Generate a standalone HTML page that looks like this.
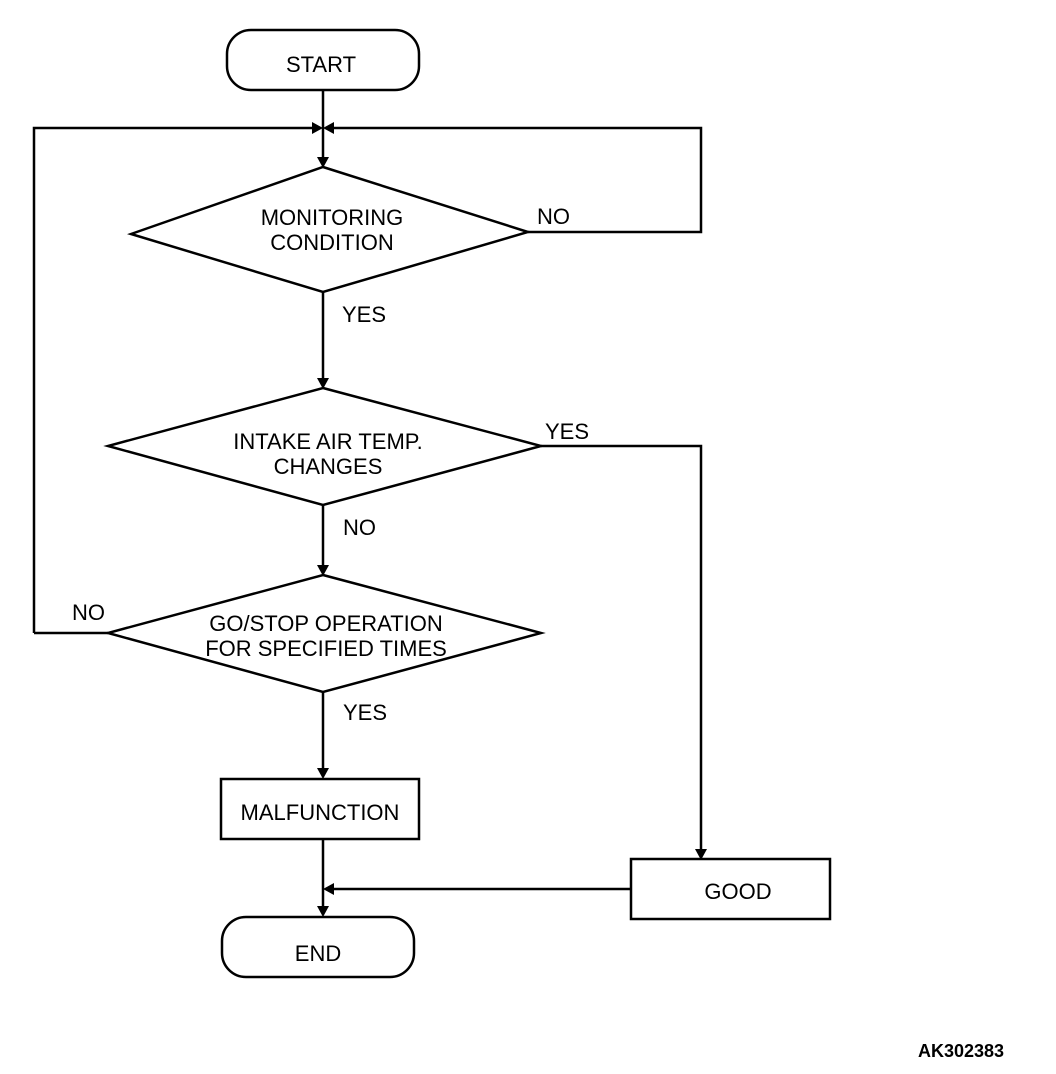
<!DOCTYPE html>
<html><head><style>body{margin:0;background:#fff}svg{display:block}text{font-family:"Liberation Sans",Arial,sans-serif;font-size:22px;fill:#000}</style></head>
<body>
<svg width="1056" height="1074" viewBox="0 0 1056 1074">
<g fill="none" stroke="#000" stroke-width="2.5">
<rect x="227" y="30" width="192" height="60" rx="24"/>
<rect x="222" y="917" width="192" height="60" rx="24"/>
<rect x="221" y="779" width="198" height="60"/>
<rect x="631" y="859" width="199" height="60"/>
<polygon points="323,167 528,232 323,292 131,234"/>
<polygon points="323,388 541,446 323,505 108,446"/>
<polygon points="323,575 541,633 323,692 108,633"/>
<polyline points="323,90 323,160"/>
<polyline points="34,633 34,128 316,128"/>
<polyline points="528,232 701,232 701,128 330,128"/>
<polyline points="323,292 323,381"/>
<polyline points="541,446 701,446 701,852"/>
<polyline points="323,505 323,568"/>
<polyline points="108,633 34,633"/>
<polyline points="323,692 323,772"/>
<polyline points="323,839 323,910"/>
<polyline points="631,889 330,889"/>
</g>
<g fill="#000">
<polygon points="317,157 329,157 323,168"/>
<polygon points="312,122 312,134 323,128"/>
<polygon points="334,122 334,134 323,128"/>
<polygon points="317,378 329,378 323,389"/>
<polygon points="317,565 329,565 323,576"/>
<polygon points="317,768 329,768 323,779"/>
<polygon points="317,906 329,906 323,917"/>
<polygon points="695,849 707,849 701,860"/>
<polygon points="334,883 334,895 323,889"/>
</g>
<g text-anchor="middle">
<text x="321" y="72">START</text>
<text x="318" y="961">END</text>
<text x="320" y="820">MALFUNCTION</text>
<text x="738" y="899">GOOD</text>
<text x="332" y="225">MONITORING</text>
<text x="332" y="250">CONDITION</text>
<text x="328" y="449">INTAKE AIR TEMP.</text>
<text x="328" y="474">CHANGES</text>
<text x="326" y="631">GO/STOP OPERATION</text>
<text x="326" y="656">FOR SPECIFIED TIMES</text>
</g>
<text x="537" y="224">NO</text>
<text x="342" y="322">YES</text>
<text x="545" y="439">YES</text>
<text x="343" y="535">NO</text>
<text x="72" y="620">NO</text>
<text x="343" y="720">YES</text>
<text x="918" y="1057" style="font-size:18px;font-weight:bold">AK302383</text>
</svg>
</body></html>
